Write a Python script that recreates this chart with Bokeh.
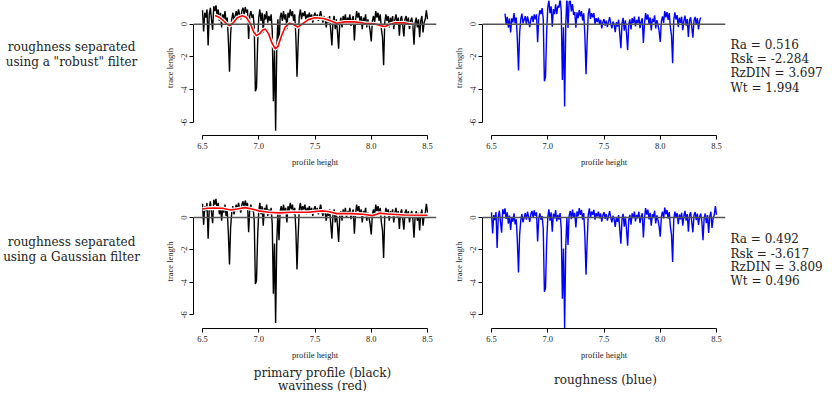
import numpy as np
from bokeh.plotting import figure
from bokeh.layouts import row, column
from bokeh.models import Range1d, FixedTicker, Span, NumeralTickFormatter
from bokeh.core.properties import value
from bokeh.embed import file_html
from bokeh.resources import INLINE

# ---------------- data ----------------
profile_start, profile_step = 6.50, 0.01
primary = [
    0.85, -0.45, 0.7, 0.4, 0.9, -1.3, 0.6, 1.0, 0.3, -0.35,
    1.1, 0.8, 1.15, 0.5, 0.9, 0.2, 0.7, -0.2, 0.6, 0.3,
    0.8, 0.1, 0.4, -1.0, -2.9, -0.6, 0.3, 0.7, 0.2, 0.5,
    0.8, 0.4, 0.9, 0.6, 0.3, 0.8, 1.0, 0.6, 1.05, 0.7,
    0.9, -0.9, 0.5, 0.8, 0.4, 0.6, -0.2, -4.1, -3.9, -1.2,
    0.4, 0.9, 0.2, 0.7, -0.5, 0.6, 0.3, 0.8, 0.1, 0.5,
    0.2, 0.6, -0.4, -4.7, -1.6, -6.5, -1.5, 0.3, -1.4, 0.4,
    0.7, 0.2, 0.8, 0.3, 0.6, -0.3, 0.7, 0.4, 0.9, 0.5,
    0.8, 0.2, 0.6, -0.8, -3.2, -1.2, 0.5, 0.9, 0.3, 0.7,
    0.5, 0.8, 0.2, 0.6, 0.4, 0.7, 0.3, 0.6, 0.1, 0.5,
    0.7, 0.3, 0.6, 0.2, 0.5, 0.8, 0.4, 0.1, 0.5, 0.3,
    -0.2, 0.4, 0.1, 0.5, -0.4, -1.3, 0.2, 0.5, -0.3, 0.3,
    -0.5, -1.5, 0.1, 0.4, -0.2, 0.5, 0.2, 0.6, 0.0, 0.4,
    0.2, 0.6, -0.1, 0.3, 0.5, -1.0, 0.2, 0.8, 0.4, 0.7,
    0.1, 0.5, -0.3, 0.4, 0.2, 0.6, -0.2, 0.3, 0.0, -0.4,
    -1.05, 0.2, 0.5, 0.1, 0.8, 0.4, 0.7, 0.2, 0.6, -0.3,
    -0.8, -2.5, 0.1, 0.6, 0.2, 0.5, -0.2, 0.4, 0.1, 0.5,
    -0.3, 0.3, 0.6, 0.0, 0.4, -0.7, 0.3, 0.5, -0.1, -0.75,
    0.3, 0.5, 0.0, 0.4, -0.3, 0.2, 0.4, -0.1, -1.25, 0.1,
    0.4, -0.2, 0.3, -0.8, 0.2, 0.5, -0.5, 0.1, 0.3, 0.85,
    0.3,
]

# waviness from the "robust" filter (trimmed at both ends)
wav_robust_x = [6.612, 6.647, 6.691, 6.721, 6.744, 6.771, 6.809, 6.853, 6.888,
                6.926, 6.956, 6.979, 7.006, 7.035, 7.059, 7.088, 7.118, 7.147,
                7.171, 7.200, 7.235, 7.274, 7.309, 7.347, 7.388, 7.441, 7.500,
                7.574, 7.632, 7.691, 7.765, 7.853, 7.941, 8.029, 8.088, 8.124,
                8.162, 8.206, 8.294, 8.368]
wav_robust_y = [0.53, 0.43, 0.18, -0.02, -0.08, 0.06, 0.39, 0.51, 0.43,
                0.02, -0.49, -0.69, -0.59, -0.35, -0.30, -0.59, -1.16, -1.50,
                -1.36, -0.75, -0.18, 0.06, -0.02, -0.18, 0.02, 0.28, 0.39,
                0.35, 0.22, 0.06, 0.14, 0.14, 0.06, 0.02, -0.10, -0.14,
                -0.02, 0.08, 0.08, -0.02]

# waviness from the Gaussian filter
wav_gauss_x = [6.500, 6.544, 6.603, 6.676, 6.750, 6.809, 6.876, 6.941, 7.000,
               7.088, 7.176, 7.294, 7.441, 7.559, 7.618, 7.691, 7.824, 7.926,
               8.015, 8.074, 8.147, 8.294, 8.500]
wav_gauss_y = [0.53, 0.57, 0.59, 0.57, 0.47, 0.53, 0.61, 0.53, 0.41,
               0.33, 0.29, 0.33, 0.33, 0.41, 0.37, 0.24, 0.24, 0.20,
               0.12, 0.27, 0.22, 0.16, 0.14]

stats_robust = ["Ra = 0.516", "Rsk = -2.284", "RzDIN = 3.697", "Wt = 1.994"]
stats_gauss = ["Ra = 0.492", "Rsk = -3.617", "RzDIN = 3.809", "Wt = 0.496"]
row_labels_robust = ["roughness separated", 'using a "robust" filter']
row_labels_gauss = ["roughness separated", "using a Gaussian filter"]
bottom_left_labels = ["primary profile (black)", "waviness (red)"]
bottom_right_label = ["roughness (blue)"]

x_ticks = [6.5, 7.0, 7.5, 8.0, 8.5]
y_ticks = [-6, -4, -2, 0]

# ---------------- derived series ----------------
prim = np.array(primary)
px = profile_start + profile_step * np.arange(len(prim))
m = (px >= wav_robust_x[0]) & (px <= wav_robust_x[-1])
rough_robust_x = px[m]
rough_robust_y = prim[m] - np.interp(rough_robust_x, wav_robust_x, wav_robust_y)
rough_gauss_y = prim - np.interp(px, wav_gauss_x, wav_gauss_y)

AX_FONT = "Liberation Serif"
AX_SIZE = "8.5px"
TXT_FONT = "DejaVu Serif"
TXT_COLOR = "#222222"

TOP_H, TOP_B = 194, 59     # row 1: frame 135 px
MID_H, MID_B = 168, 34     # row 2: frame 134 px
BOT_H = 29
LEFT_W, TL_W, TR_W, RIGHT_W = 161, 289, 278, 96
top_y = (-6.795, 1.447)
bot_y = (-6.84, 1.42)


def panel(width, height, border_bottom, y_rng, border_right):
    p = figure(width=width, height=height,
               x_range=Range1d(6.42, 8.58), y_range=Range1d(*y_rng),
               output_backend="svg", toolbar_location=None,
               min_border_left=30, min_border_right=border_right,
               min_border_top=0, min_border_bottom=border_bottom)
    p.grid.visible = False
    p.outline_line_color = None
    p.background_fill_color = "white"
    p.border_fill_color = "white"
    xa = p.xaxis[0]
    xa.ticker = FixedTicker(ticks=x_ticks)
    xa.formatter = NumeralTickFormatter(format="0.0")
    xa.bounds = (x_ticks[0], x_ticks[-1])
    xa.axis_label = "profile height"
    ya = p.yaxis[0]
    ya.ticker = FixedTicker(ticks=y_ticks)
    ya.formatter = NumeralTickFormatter(format="0")
    ya.bounds = (y_ticks[0], y_ticks[-1])
    ya.axis_label = "trace length"
    ya.major_label_orientation = "vertical"
    for ax in (xa, ya):
        ax.minor_tick_line_color = None
        ax.major_tick_out = 4
        ax.major_tick_in = 0
        ax.axis_line_color = "black"
        ax.major_tick_line_color = "black"
        ax.major_label_text_font = AX_FONT
        ax.major_label_text_font_size = AX_SIZE
        ax.major_label_text_color = TXT_COLOR
        ax.axis_label_text_font = AX_FONT
        ax.axis_label_text_font_size = AX_SIZE
        ax.axis_label_text_font_style = "normal"
        ax.axis_label_text_color = TXT_COLOR
    xa.major_label_standoff = 3
    xa.axis_label_standoff = 5
    ya.major_label_standoff = 2
    ya.axis_label_standoff = 4
    p.add_layout(Span(location=0, dimension="width",
                      line_color="#555555", line_width=1.5))
    return p


def text_fig(w, h, border_bottom):
    # same top/bottom borders as the plots of its row so frames line up
    fh = h - border_bottom
    p = figure(width=w, height=h, x_range=Range1d(0, w), y_range=Range1d(fh, 0),
               output_backend="svg", toolbar_location=None,
               min_border_left=0, min_border_right=0, min_border_top=0,
               min_border_bottom=border_bottom,
               x_axis_type=None, y_axis_type=None)
    p.outline_line_color = None
    p.background_fill_color = "white"
    p.border_fill_color = "white"
    return p


def add_text(p, xs, ys, texts, align):
    p.text(x=xs, y=ys, text=texts, text_font=value(TXT_FONT),
           text_font_size="12px", text_align=align,
           text_baseline="middle", text_color=TXT_COLOR)


# ---- top row: robust filter ----
tl = panel(TL_W, TOP_H, TOP_B, top_y, TL_W - 30 - 245)
tl.line(px, prim, line_color="black", line_width=1.4)
tl.line(wav_robust_x, wav_robust_y, line_color="white", line_width=4)
tl.line(wav_robust_x, wav_robust_y, line_color="red", line_width=1.6)

tr = panel(TR_W, TOP_H, TOP_B, top_y, TR_W - 30 - 245)
tr.line(rough_robust_x, rough_robust_y, line_color="blue", line_width=1.4)

l1 = text_fig(LEFT_W, TOP_H, TOP_B)
add_text(l1, [71, 71], [46.7, 61.7], row_labels_robust, "center")
r1 = text_fig(RIGHT_W, TOP_H, TOP_B)
add_text(r1, [2] * 4, [44, 58.5, 72.5, 87], stats_robust, "left")

# ---- bottom row: Gaussian filter ----
bl = panel(TL_W, MID_H, MID_B, bot_y, TL_W - 30 - 245)
bl.line(px, prim, line_color="black", line_width=1.4)
bl.line(wav_gauss_x, wav_gauss_y, line_color="white", line_width=4)
bl.line(wav_gauss_x, wav_gauss_y, line_color="red", line_width=1.6)

br = panel(TR_W, MID_H, MID_B, bot_y, TR_W - 30 - 245)
br.line(px, rough_gauss_y, line_color="blue", line_width=1.4)

l2 = text_fig(LEFT_W, MID_H, MID_B)
add_text(l2, [71, 71], [47, 62], row_labels_gauss, "center")
r2 = text_fig(RIGHT_W, MID_H, MID_B)
add_text(r2, [2] * 4, [44.7, 59.3, 72.3, 86.7], stats_gauss, "left")

# ---- bottom captions ----
W = LEFT_W + TL_W + TR_W + RIGHT_W
bt = text_fig(W, BOT_H, 0)
add_text(bt, [322, 322], [10, 23], bottom_left_labels, "center")
add_text(bt, [605], [17], bottom_right_label, "center")

layout = column(row(l1, tl, tr, r1), row(l2, bl, br, r2), bt)
open("out.html", "w").write(file_html(layout, INLINE))
